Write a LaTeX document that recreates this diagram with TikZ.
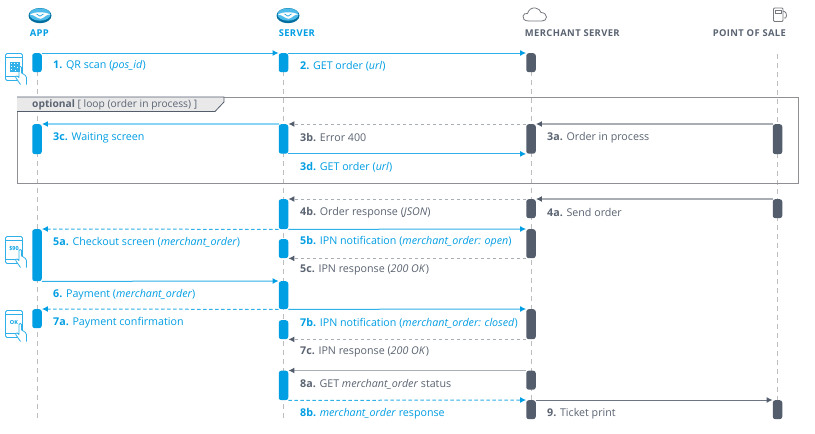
\documentclass[tikz,border=0pt]{standalone}
\usepackage{fontspec}
\setmainfont{Open Sans}
\usetikzlibrary{arrows.meta}
\definecolor{mpblue}{HTML}{009EE3}
\definecolor{mpline}{HTML}{2FB0E8}
\definecolor{mplight}{HTML}{8AD4F5}
\definecolor{mpdark}{HTML}{535D6C}
\definecolor{mpgrey}{HTML}{A9ADB4}
\definecolor{mptext}{HTML}{5B6472}
\definecolor{mplife}{HTML}{BDBDBD}
\definecolor{mptab}{HTML}{E9E9EA}
\definecolor{mpframe}{HTML}{8E9094}
\tikzset{
  x=1pt,y=-1pt,
  life/.style={draw=mplife,line width=1pt,dash pattern=on 5pt off 4pt},
  barblue/.style={fill=mpblue,draw=none,rounded corners=2.5pt,minimum width=9.5pt,inner sep=0pt,anchor=north},
  bardark/.style={fill=mpdark,draw=none,rounded corners=2.5pt,minimum width=9.5pt,inner sep=0pt,anchor=north},
  msg/.style={line width=1pt},
  bluesolid/.style={msg,draw=mpline,-{Latex[length=6pt,width=6pt,color=mpblue]}},
  lightsolid/.style={msg,draw=mplight,line width=1.2pt,-{Latex[length=6pt,width=6pt,color=mpblue]}},
  bluedash/.style={msg,draw=mpline,dash pattern=on 3.5pt off 2.5pt,-{Latex[length=6pt,width=6pt,color=mpblue]}},
  greysolid/.style={msg,draw=mpgrey,line width=1.3pt,-{Latex[length=6pt,width=6pt,color=mpdark]}},
  darksolid/.style={msg,draw=mpdark!85,-{Latex[length=6pt,width=6pt,color=mpdark]}},
  greydash/.style={msg,draw=mpgrey,dash pattern=on 3pt off 3pt,-{Latex[length=6pt,width=6pt,color=mpdark]}},
  lblue/.style={anchor=west,inner sep=0pt,yshift=-.8pt,text=mpblue,font=\fontsize{10.7}{12}\selectfont},
  ldark/.style={anchor=west,inner sep=0pt,yshift=-.8pt,text=mptext,font=\fontsize{10.7}{12}\selectfont},
  ltab/.style={anchor=west,inner sep=0pt,text=mptext,font=\fontsize{10.25}{12}\selectfont},
  head/.style={inner sep=0pt,font=\addfontfeatures{LetterSpace=4}\fontsize{9.4}{10}\selectfont},
  iconblue/.style={draw=mpline,line width=.8pt,fill=white},
  icondark/.style={draw=mpgrey!70!black,line width=.8pt},
}
\newcommand{\handshake}[2]{%
  \begin{scope}[shift={(#1,#2)}]
    \fill[mpblue!70!black] (0,0.6) ellipse [x radius=11.5pt,y radius=7.6pt];
    \fill[mpline!85!white] (0,-.5) ellipse [x radius=10.5pt,y radius=6.2pt];
    \fill[white] (-10,-.5) .. controls (-5,-3.5) and (5,-3.5) .. (10,-.5) .. controls (6,-1) and (4,3.5) .. (0.5,3.8) .. controls (-3,3.5) and (-6,-.5) .. (-10,-.5);
    \draw[mpblue,line width=.6pt] (-3.5,-1) -- (0,1.2) -- (3.5,-1);
  \end{scope}}
\newcommand{\phoneicon}[3]{%
  \begin{scope}[shift={(#1,#2)}]
    \draw[iconblue,rounded corners=1.5pt] (0,0) rectangle (17,27);
    \draw[mpline,line width=.7pt] (0,3.5) -- (17,3.5) (0,23) -- (13,23);
    \node[inner sep=0pt,text=mpblue,font=\fontsize{5.5}{7}\bfseries\selectfont] at (8.5,12) {#3};
    \draw[mpline,line width=.8pt,fill=white,line join=round] (21,31) -- (21,24) .. controls (21,22) and (19,21.5) .. (17,20) -- (16,19.5) -- (16,14) .. controls (16,12.5) and (13.5,12.5) .. (13.5,14) -- (13.5,24) -- (11.5,22.5) .. controls (10,22) and (9.5,23.5) .. (10.5,24.5) -- (15,31);
  \end{scope}}
\begin{document}
\begin{tikzpicture}
\useasboundingbox (0,0) rectangle (815,434);
\fill[white] (0,0) rectangle (815,434);

% lifeline ends
\coordinate (lAt) at (37,53);    \coordinate (lAb) at (37,421);
\coordinate (lSt) at (283.5,53); \coordinate (lSb) at (283.5,421);
\coordinate (lMt) at (531,53);   \coordinate (lMb) at (531,421);
\coordinate (lPt) at (777.5,54); \coordinate (lPb) at (777.5,421);
\draw[life] (lAt) -- (lAb);
\draw[life] (lSt) -- (lSb);
\draw[life] (lMt) -- (lMb);
\draw[life] (lPt) -- (lPb);

% headers and icons
\handshake{40}{15}
\handshake{288}{15}
\node[head,text=mpblue] (hA) at (39.5,33.5) {\textbf{APP}};
\node[head,text=mpblue] (hS) at (297,33.5) {\textbf{SERVER}};
\node[head,text=mptext] (hM) at (572.5,33.5) {\textbf{MERCHANT SERVER}};
\node[head,text=mptext] (hP) at (749.5,33.5) {\textbf{POINT OF SALE}};
% cloud
\draw[icondark,line join=round] (529,21) .. controls (524,21) and (522.5,18.5) .. (523,16) .. controls (523.5,14) and (525.5,13) .. (527.5,13.5) .. controls (528.5,9.5) and (532,7.5) .. (535.5,8) .. controls (538.5,8.5) and (540.5,10.5) .. (541,12.5) .. controls (544.5,12.5) and (546.5,15) .. (546.5,17) .. controls (546.5,19.5) and (544.5,21) .. (542,21) -- cycle;
% pump
\draw[icondark,rounded corners=1pt] (773.5,8) rectangle (783,21.5);
\draw[icondark] (775.5,10.5) rectangle (781,13.5);
\draw[icondark,line join=round] (783,11) .. controls (786.5,12) and (786.5,14) .. (786.5,16) .. controls (786.5,18) and (785,18.5) .. (784,18);

% phone icons
\phoneicon{5.5}{53.5}{}
\fill[mpblue!80] (9.5,61.5) rectangle (19.5,72);
\foreach \p/\q in {10.5/62.5,13.5/62.5,16.5/62.5,10.5/65.5,13.5/66,10.5/69,16.5/67,14.5/70}{\fill[white] (\p,\q) rectangle ++(1.6,1.4);}
\phoneicon{5.5}{236.5}{\$90}
\phoneicon{5.5}{310.5}{OK}

% optional frame
\node[draw=mpframe,line width=.8pt,minimum width=781pt,minimum height=86pt,inner sep=0pt,anchor=north west] (frame) at (17,97) {};
\fill[mptab] (17,97) -- (224,97) -- (224,102) -- (215,111.5) -- (17,111.5) -- cycle;
\draw[mpdark,line width=.8pt] (17,111.5) -- (215,111.5) -- (224,102) -- (224,97) -- (17,97);
\node[ltab] (ftab) at (32,104.5) {\textbf{optional} [ loop (order in process) ]};

% activation bars
\node[barblue,minimum height=19pt] (a1) at (37,53) {};
\node[barblue,minimum height=19pt] (s1) at (283.5,53) {};
\node[bardark,minimum height=19pt] (m1) at (531,53) {};

\node[barblue,minimum height=30pt] (a3) at (37,124) {};
\node[barblue,minimum height=29.5pt] (s3) at (283.5,124) {};
\node[bardark,minimum height=29.5pt] (m3) at (531,124) {};
\node[bardark,minimum height=30pt] (p3) at (777.5,124) {};

\node[barblue,minimum height=30pt] (s4) at (283.5,199) {};
\node[bardark,minimum height=19pt] (m4) at (531,199) {};
\node[bardark,minimum height=19pt] (p4) at (777.5,199) {};

\node[barblue,minimum height=52pt] (a5) at (37,229) {};
\node[barblue,minimum height=19pt] (s5) at (283.5,239) {};
\node[bardark,minimum height=29pt] (m5) at (531,229) {};

\node[barblue,minimum height=28pt] (s6) at (283.5,281) {};
\node[barblue,minimum height=19pt] (a7) at (37,309) {};
\node[barblue,minimum height=19pt] (s7) at (283.5,320) {};
\node[bardark,minimum height=30pt] (m7) at (531,309) {};

\node[barblue,minimum height=29.5pt] (s8) at (283.5,370.5) {};
\node[bardark,minimum height=19pt] (m8) at (531,370.5) {};
\node[bardark,minimum height=19pt] (m9) at (531,400) {};
\node[bardark,minimum height=19pt] (p9) at (777.5,400) {};

% messages
\draw[bluesolid] (a1.north east) -- (s1.north west);
\draw[bluesolid] (s1.north east) -- (m1.north west);
\draw[greysolid] (p3.north west) -- (m3.north east);
\draw[greydash] (m3.north west) -- (s3.north east);
\draw[lightsolid] (s3.north west) -- (a3.north east);
\draw[bluesolid] (s3.south east) -- (m3.south west);
\draw[greysolid] (p4.north west) -- (m4.north east);
\draw[greydash] (m4.north west) -- (s4.north east);
\draw[bluedash] (s4.south west) -- (a5.north east);
\draw[bluesolid] (s4.south east) -- (m5.north west);
\draw[greydash] (m5.south west) -- (s5.south east);
\draw[bluesolid] (a5.south east) -- (s6.north west);
\draw[bluedash] (s6.south west) -- (a7.north east);
\draw[bluesolid] (s6.south east) -- (m7.north west);
\draw[greydash] (m7.south west) -- (s7.south east);
\draw[greysolid] (m8.north west) -- (s8.north east);
\draw[bluedash] (s8.south east) -- (m9.north west);
\draw[darksolid] (m9.north east) -- (p9.north west);

% labels
\node[lblue] (t1) at (53,65) {\textbf{1.} QR scan (\textit{pos\_id})};
\node[lblue] (t2) at (300,65) {\textbf{2.} GET order (\textit{url})};
\node[lblue] (t3c) at (53,137) {\textbf{3c.} Waiting screen};
\node[ldark] (t3b) at (300,137) {\textbf{3b.} Error 400};
\node[ldark] (t3a) at (547,137) {\textbf{3a.} Order in process};
\node[lblue] (t3d) at (300,166) {\textbf{3d.} GET order (\textit{url})};
\node[ldark] (t4b) at (300,212) {\textbf{4b.} Order response (\textit{JSON})};
\node[ldark] (t4a) at (547,212) {\textbf{4a.} Send order};
\node[lblue] (t5a) at (53,241) {\textbf{5a.} Checkout screen (\textit{merchant\_order})};
\node[lblue] (t5b) at (300,241) {\textbf{5b.} IPN notification (\textit{merchant\_order: open})};
\node[ldark] (t5c) at (300,269) {\textbf{5c.} IPN response (\textit{200 OK})};
\node[lblue] (t6) at (53,294) {\textbf{6.} Payment (\textit{merchant\_order})};
\node[lblue] (t7a) at (53,322) {\textbf{7a.} Payment confirmation};
\node[lblue] (t7b) at (300,322) {\textbf{7b.} IPN notification (\textit{merchant\_order: closed})};
\node[ldark] (t7c) at (300,351) {\textbf{7c.} IPN response (\textit{200 OK})};
\node[ldark] (t8a) at (300,383) {\textbf{8a.} GET \textit{merchant\_order} status};
\node[lblue] (t8b) at (300,413) {\textbf{8b.} \textit{merchant\_order} response};
\node[ldark] (t9) at (547,413) {\textbf{9.} Ticket print};
\end{tikzpicture}
\end{document}
